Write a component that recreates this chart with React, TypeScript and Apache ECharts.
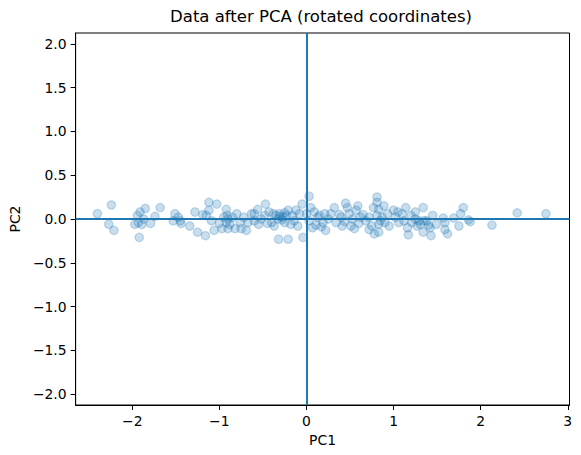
import React, { useEffect, useRef } from "react";
import * as echarts from "echarts";

const TITLE = "Data after PCA (rotated coordinates)";
const X_NAME = "PC1";
const Y_NAME = "PC2";
const X_TICKS = [-2, -1, 0, 1, 2, 3];
const Y_TICKS = [-2, -1.5, -1, -0.5, 0, 0.5, 1, 1.5, 2];

const pc1 = [
  -2.40, -2.24, -2.27, -2.21, -1.92, -1.94, -1.91, -1.85, -1.93, -1.89, -1.87, -1.79, -1.74, -1.97, -1.68,
  -1.51, -1.53, -1.47, -1.45, -1.44, -1.34, -1.25, -1.16, -1.28, -1.19, -1.12, -1.03, -1.12, -1.15, -1.09,
  -1.06, -0.97, -0.92, -0.91, -0.90, -0.92, -0.88, -0.90, -0.80, -0.82, -0.76, -0.75,
  -0.69, -0.67, -0.60, -0.56, -0.47, -0.52, -0.48, -0.38, -0.35, -0.31, -0.33, -0.37, -0.40, -0.25, -0.21,
  -0.23, -0.32, -0.21, -0.10, -0.08, -0.05, -0.04, 0.03, 0.05, 0.09, 0.03, 0.07, 0.11, 0.15, 0.21, 0.19,
  0.22, -0.16, -0.63,
  0.32, 0.28, 0.34, 0.38, 0.45, 0.47, 0.49, 0.41, 0.51, 0.53, 0.59, 0.57, 0.62, 0.55, 0.72, 0.75, 0.78,
  0.81, 0.81, 0.77, 0.83, 0.81, 0.85, 0.83, 0.89, 0.83, 0.93, 0.95, 1.00, 1.02, 1.06, 1.10, 1.14, 1.16,
  1.17, 1.20, 1.21,
  1.25, 1.25, 1.29, 1.31, 1.35, 1.27, 1.34, 1.34, 1.38, 1.40, 1.42, 1.43, 1.49, 1.57, 1.59, 1.59, 1.62,
  1.69, 1.75, 1.77, 1.80, 1.86, 1.88, 2.13,
  2.42, 2.75,
  -0.30, -0.27, -0.28, -0.25, -0.14, -0.12, 0.13, 0.25, 0.40, 0.44, 0.60, 0.65, 0.68, 0.87, 0.90, 1.05,
  -0.60, -0.55, -0.45, -0.43, -0.85, -0.95, -1.00, -0.72, -0.18, 0.00, 0.17, 0.72, 1.12, 1.45,
];

const pc2 = [
  0.06, 0.16, -0.06, -0.13, -0.21, 0.04, 0.08, 0.12, -0.04, -0.06, 0.00, -0.05, 0.03, -0.06, 0.13,
  0.06, -0.02, 0.02, -0.02, -0.05, -0.08, -0.15, -0.19, 0.08, 0.05, 0.19, 0.17, 0.10, 0.04, -0.02,
  -0.13, -0.11, 0.11, 0.04, 0.00, -0.04, -0.06, -0.11, 0.06, -0.11, -0.04, -0.11,
  -0.13, -0.04, 0.06, 0.11, 0.17, 0.00, 0.04, 0.06, 0.04, 0.06, 0.00, -0.08, -0.04, -0.04, 0.10,
  0.04, -0.23, -0.23, -0.08, 0.06, 0.17, -0.21, 0.26, 0.13, 0.08, -0.02, -0.10, -0.07, 0.04, 0.06, -0.04,
  -0.13, 0.04, 0.06,
  0.13, 0.06, -0.04, 0.05, 0.18, 0.13, 0.06, -0.08, -0.08, 0.00, 0.15, 0.10, 0.02, -0.11, 0.02, -0.08, -0.17,
  0.25, 0.19, 0.13, 0.11, 0.04, -0.02, -0.06, 0.15, -0.15, 0.06, -0.08, 0.10, 0.02, -0.04, 0.06, 0.13, -0.10,
  -0.18, 0.04, -0.04,
  0.08, 0.00, -0.02, -0.06, -0.02, -0.08, 0.13, -0.15, -0.02, -0.07, -0.10, -0.19, -0.06, 0.01, -0.04, -0.12, -0.17,
  0.01, -0.08, 0.06, 0.13, -0.01, -0.03, -0.07,
  0.07, 0.06,
  0.03, 0.02, -0.01, 0.07, -0.02, 0.10, 0.02, 0.00, 0.02, -0.03, -0.05, 0.05, -0.02, 0.02, -0.04, 0.08,
  -0.02, -0.06, -0.05, 0.08, 0.02, 0.02, -0.05, 0.02, -0.06, 0.06, -0.09, -0.12, -0.02, 0.04,
];

const FONT = '"DejaVu Sans", sans-serif';
const BLUE = "#1f77b4";

const fmt = (v: number, d: number) => {
  const s = Math.abs(v).toFixed(d);
  return v < 0 ? "\u2212" + s : s;
};

export default function App() {
  const ref = useRef<HTMLDivElement>(null);
  useEffect(() => {
    if (!ref.current) return;
    const chart = echarts.init(ref.current, undefined, { renderer: "svg" });
    const data = pc1.map((x, i) => [x, pc2[i]]);
    chart.setOption({
      animation: false,
      backgroundColor: "#ffffff",
      title: {
        text: TITLE,
        left: 321,
        top: 8,
        padding: 0,
        textAlign: "center",
        textStyle: { fontFamily: FONT, fontSize: 16.5, fontWeight: "normal", color: "#000" },
      },
      grid: {
        left: 72.5,
        top: 33,
        width: 497,
        height: 372,
        show: true,
        borderColor: "#000",
        borderWidth: 1,
        backgroundColor: "transparent",
        containLabel: false,
      },
      xAxis: {
        type: "value",
        min: -2.65,
        max: 3.02,
        name: X_NAME,
        nameLocation: "middle",
        nameGap: 22,
        nameTextStyle: { fontFamily: FONT, fontSize: 13.9, color: "#000" },
        axisLine: { show: true, onZero: false, lineStyle: { color: "#000", width: 1 } },
        axisTick: { show: true, length: 5, customValues: X_TICKS, lineStyle: { color: "#000", width: 1 } },
        axisLabel: {
          customValues: X_TICKS,
          margin: 9,
          fontFamily: FONT,
          fontSize: 13.9,
          color: "#000",
          formatter: (v: number) => fmt(v, 0),
        },
        splitLine: { show: false },
      },
      yAxis: {
        type: "value",
        min: -2.125,
        max: 2.125,
        name: Y_NAME,
        nameLocation: "middle",
        nameGap: 49,
        nameTextStyle: { fontFamily: FONT, fontSize: 13.9, color: "#000" },
        axisLine: { show: true, onZero: false, lineStyle: { color: "#000", width: 1 } },
        axisTick: { show: true, length: 5, customValues: Y_TICKS, lineStyle: { color: "#000", width: 1 } },
        axisLabel: {
          customValues: Y_TICKS,
          margin: 9,
          fontFamily: FONT,
          fontSize: 13.9,
          color: "#000",
          formatter: (v: number) => fmt(v, 1),
        },
        splitLine: { show: false },
      },
      series: [
        {
          type: "scatter",
          data,
          symbol: "circle",
          symbolSize: 8.5,
          itemStyle: {
            color: "rgba(31,119,180,0.3)",
            borderColor: "rgba(31,119,180,0.3)",
            borderWidth: 1.3,
          },
          emphasis: { disabled: true },
          markLine: {
            silent: true,
            symbol: ["none", "none"],
            label: { show: false },
            lineStyle: { color: BLUE, width: 2, type: "solid" },
            emphasis: { disabled: true },
            data: [{ xAxis: 0 }, { yAxis: 0 }],
          },
          z: 2,
        },
      ],
    });
    return () => chart.dispose();
  }, []);
  return <div ref={ref} style={{ width: 581, height: 455, position: "absolute", left: 0, top: 0 }} />;
}
